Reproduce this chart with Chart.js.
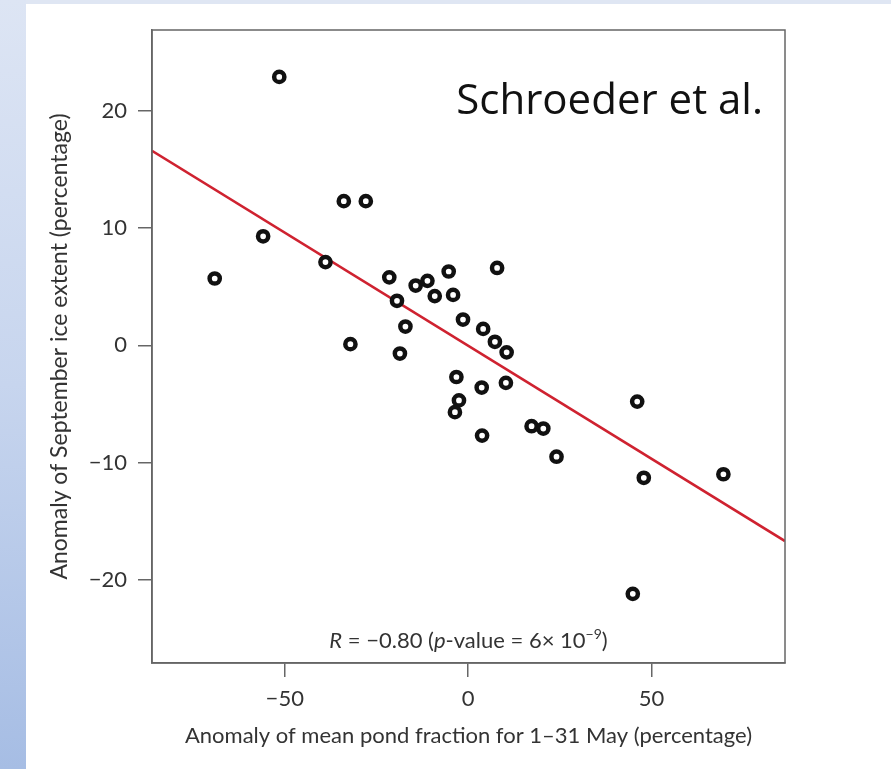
<!DOCTYPE html>
<html>
<head>
<meta charset="utf-8">
<script src="https://cdn.jsdelivr.net/npm/chart.js@4.4.1/dist/chart.umd.min.js"></script>
<style>
  html, body { margin:0; padding:0; width:891px; height:769px; overflow:hidden; }
  body { background: #dfe6f3; position:relative; }
  #strip { position:absolute; left:0; top:0; width:26px; height:769px;
           background: linear-gradient(to bottom, #dde5f4 0%, #c7d5ee 50%, #a6bde4 100%); }
  #panel { position:absolute; left:26px; top:4px; width:865px; height:765px; background:#ffffff; }
  #wrap { position:absolute; left:0; top:0; width:891px; height:769px; }
</style>
</head>
<body>
<div id="strip"></div>
<div id="panel"></div>
<div id="wrap"><canvas id="c" width="891" height="769"></canvas></div>
<script>
// ---- data ----
const pondAnomaly = [-51.5, -33.9, -27.9, -69.1, -55.9, -38.9, -32.1, -21.5, -19.4, -17.1,
  -18.6, -14.3, -11.1, -9.1, -5.3, -4.1, -1.4, 7.9, 4.1, 7.3,
  10.5, -3.2, -2.5, -3.6, 3.7, 10.3, 3.8, 17.3, 20.5, 24.1,
  46.1, 47.9, 69.6, 44.9];
const iceAnomaly = [22.9, 12.3, 12.3, 5.7, 9.3, 7.1, 0.1, 5.8, 3.8, 1.6,
  -0.7, 5.1, 5.5, 4.2, 6.3, 4.3, 2.2, 6.6, 1.4, 0.3,
  -0.6, -2.7, -4.7, -5.7, -3.6, -3.2, -7.7, -6.9, -7.1, -9.5,
  -4.8, -11.3, -11.0, -21.2];
const fitX = [-86.2, 86.4];
const fitY = [16.6, -16.7];
const xTicks = [-50, 0, 50];
const yTicks = [-20, -10, 0, 10, 20];
const xRange = [-86.2, 86.4];
const yRange = [-27.1, 26.9];
const xTitle = 'Anomaly of mean pond fraction for 1\u201331 May (percentage)';
const yTitle = 'Anomaly of September ice extent (percentage)';
const sourceLabel = 'Schroeder et al.';
const statParts = [
  {t:'R', it:true}, {t:' = \u22120.80 ('}, {t:'p', it:true},
  {t:'-value = 6\u00d7 10'}, {t:'\u22129', sup:true}, {t:')'}
];

const FONT = 'Lato, "Open Sans", sans-serif';
const TEXT = '#333333';
const AXIS = '#666666';
const minus = v => String(v).replace('-', '\u2212');

const points = pondAnomaly.map((x, i) => ({x, y: iceAnomaly[i]}));
const fitLine = fitX.map((x, i) => ({x, y: fitY[i]}));

const annot = {
  id: 'annot',
  afterDatasetsDraw(chart) {
    const ctx = chart.ctx, a = chart.chartArea;
    ctx.save();
    ctx.strokeStyle = AXIS;
    ctx.lineWidth = 1.5;
    ctx.strokeRect(a.left, a.top, a.right - a.left, a.bottom - a.top);

    // source label
    ctx.fillStyle = '#111111';
    ctx.font = '42px "Open Sans", sans-serif';
    ctx.textAlign = 'right';
    ctx.textBaseline = 'alphabetic';
    ctx.fillText(sourceLabel, a.right - 22, a.top + 84);

    // statistics line
    const fs = 22;
    const fontFor = p => (p.it ? 'italic ' : '') + (p.sup ? Math.round(fs*0.65) : fs) + 'px ' + FONT;
    let total = 0;
    statParts.forEach(p => { ctx.font = fontFor(p); total += ctx.measureText(p.t).width; });
    let x = (a.left + a.right) / 2 - total / 2;
    const base = a.bottom - 15;
    ctx.textAlign = 'left';
    ctx.fillStyle = TEXT;
    statParts.forEach(p => {
      ctx.font = fontFor(p);
      ctx.fillText(p.t, x, p.sup ? base - 9 : base);
      x += ctx.measureText(p.t).width;
    });
    ctx.restore();
  }
};

new Chart(document.getElementById('c'), {
  type: 'scatter',
  data: {
    datasets: [
      {
        label: 'fit',
        type: 'line',
        data: fitLine,
        borderColor: '#cf2230',
        borderWidth: 2.6,
        pointRadius: 0,
        fill: false,
        order: 2
      },
      {
        label: 'years',
        data: points,
        pointRadius: 5.1,
        pointBorderWidth: 4.5,
        pointBorderColor: '#111111',
        pointBackgroundColor: '#ffffff',
        order: 1
      }
    ]
  },
  options: {
    responsive: false,
    animation: false,
    devicePixelRatio: 1,
    layout: { padding: { left: 0, top: 30, right: 106, bottom: 0 } },
    plugins: { legend: { display: false }, tooltip: { enabled: false } },
    scales: {
      x: {
        type: 'linear',
        min: xRange[0], max: xRange[1],
        afterBuildTicks: s => { s.ticks = xTicks.map(v => ({value: v})); },
        afterFit: s => { s.height = 106; },
        grid: { drawOnChartArea: false, drawTicks: true, tickLength: 14, color: AXIS, lineWidth: 1.5 },
        border: { display: true, color: AXIS, width: 1.5 },
        ticks: { padding: 9, color: TEXT, font: { family: FONT, size: 22 }, callback: v => minus(v) },
        title: { display: true, text: xTitle, color: TEXT, font: { family: FONT, size: 22 },
                 padding: { top: 0, bottom: 20 } }
      },
      y: {
        type: 'linear',
        min: yRange[0], max: yRange[1],
        afterBuildTicks: s => { s.ticks = yTicks.map(v => ({value: v})); },
        afterFit: s => { s.width = 152; },
        grid: { drawOnChartArea: false, drawTicks: true, tickLength: 14, color: AXIS, lineWidth: 1.5 },
        border: { display: true, color: AXIS, width: 1.5 },
        ticks: { padding: 11, color: TEXT, font: { family: FONT, size: 22 }, callback: v => minus(v) },
        title: { display: true, text: yTitle, color: TEXT, font: { family: FONT, size: 23 },
                 padding: { top: 46, bottom: 0 } }
      }
    }
  },
  plugins: [annot]
});
</script>
</body>
</html>
